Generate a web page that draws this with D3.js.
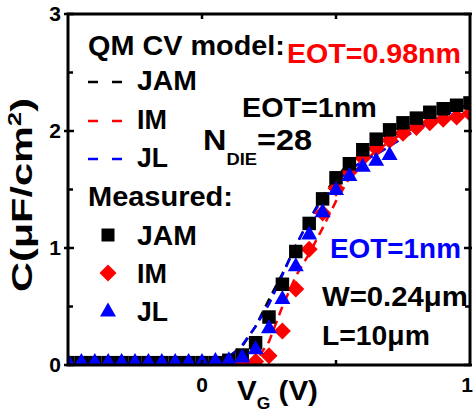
<!DOCTYPE html>
<html><head><meta charset="utf-8">
<script src="https://d3js.org/d3.v7.min.js"></script>
<style>
html,body{margin:0;padding:0;background:#fff;}
svg text{font-family:"Liberation Sans",Arial,sans-serif;font-weight:bold;}
</style></head>
<body><svg id="c" width="473" height="414"></svg>
<script>
const vg = d3.range(31).map(i => +(-0.5 + i*0.05).toFixed(2));
// Measured (x = vg)
const measJAM = [0.02,0.02,0.02,0.02,0.02,0.02,0.02,0.02,0.02,0.02,0.02,0.02,0.04,0.085,0.19,0.41,0.69,0.97,1.21,1.42,1.60,1.72,1.84,1.93,2.01,2.07,2.11,2.16,2.19,2.22,2.24];
const measIM  = [0.01,0.01,0.01,0.01,0.01,0.01,0.01,0.01,0.01,0.01,0.01,0.01,0.01,0.01,0.03,0.08,0.29,0.65,0.99,1.30,1.51,1.65,1.77,1.85,1.92,1.98,2.03,2.07,2.10,2.12,2.15];
const measJL  = [0.03,0.03,0.03,0.03,0.03,0.03,0.03,0.03,0.03,0.03,0.03,0.04,0.045,0.07,0.14,0.32,0.57,0.85,1.12,1.31,1.50,1.62,1.70,1.75,1.80];
// QM CV model curves (x = vg)
const modelJAM = [0.01,0.01,0.01,0.01,0.01,0.01,0.01,0.01,0.01,0.01,0.01,0.03,0.07,0.16,0.33,0.56,0.78,1.02,1.24,1.44,1.60,1.73,1.83,1.91,1.98,2.04,2.09,2.13,2.17,2.20,2.23];
const modelIM  = [0.0,0.0,0.0,0.0,0.0,0.0,0.0,0.0,0.0,0.0,0.0,0.0,0.0,0.01,0.03,0.20,0.50,0.76,0.95,1.17,1.40,1.60,1.73,1.83,1.91,1.98,2.03,2.07,2.10,2.13,2.16];
const modelJL  = [0.01,0.01,0.01,0.01,0.01,0.01,0.01,0.01,0.01,0.01,0.01,0.03,0.06,0.17,0.33,0.52,0.77,1.02,1.24,1.42,1.56,1.67,1.74,1.80,1.87,1.94,2.01,2.07,2.13,2.18,2.24];
const yTicks = [0,1,2,3];
const yMinor = [0.5,1.5,2.5];
const xTickLabels = [0,1];
const xTicks = [0,0.5];

const svg = d3.select("#c");
const L=68,R=470,T=14,B=365;
const x = d3.scaleLinear().domain([-0.5,1]).range([L,R]);
const y = d3.scaleLinear().domain([0,3]).range([B,T]);

// stretch a text horizontally so it spans [x0, x1]
function fit(t, x0, x1){
  const w = t.node().getBBox().width;
  const k = (x1-x0)/w;
  t.attr("transform",`translate(${x0},0) scale(${k},1) translate(${-x0},0)`);
  return t;
}

svg.append("clipPath").attr("id","clip").append("rect").attr("x",L).attr("y",T).attr("width",R-L).attr("height",B-T);
const g = svg.append("g").attr("clip-path","url(#clip)");

const line = d3.line().x((d,i)=>x(vg[i])).y(d=>y(d));
const models = [[modelJAM,"#000"],[modelIM,"#ff0000"],[modelJL,"#0000ff"]];
models.forEach(([d,c])=>{
  g.append("path").datum(d).attr("d",line).attr("fill","none").attr("stroke",c)
   .attr("stroke-width",2.5).attr("stroke-dasharray","9,6");
});

const sq = s => `M${-s/2},${-s/2}h${s}v${s}h${-s}Z`;
const dia = s => `M0,${-s}L${s},0L0,${s}L${-s},0Z`;
const tri = (w,h) => `M0,${-h*0.6}L${w/2},${h*0.4}L${-w/2},${h*0.4}Z`;

function marks(data, path, color){
  g.append("g").selectAll("path").data(data).join("path")
   .attr("transform",(d,i)=>`translate(${x(vg[i])},${y(d)})`)
   .attr("d",path).attr("fill",color);
}
marks(measIM, dia(8.5), "#ff0000");
marks(measJAM, sq(13.5), "#000");
marks(measJL, tri(16,14), "#0000ff");

// frame
svg.append("rect").attr("x",L).attr("y",T).attr("width",R-L).attr("height",B-T)
  .attr("fill","none").attr("stroke","#000").attr("stroke-width",3);

// ticks
const tk = svg.append("g").attr("stroke","#000").attr("stroke-width",2.5);
yTicks.forEach(v=>{
  tk.append("line").attr("x1",L-4).attr("x2",L+6).attr("y1",y(v)).attr("y2",y(v));
  tk.append("line").attr("x1",R-6).attr("x2",R+2).attr("y1",y(v)).attr("y2",y(v));
});
yMinor.forEach(v=>{
  tk.append("line").attr("x1",L).attr("x2",L+5).attr("y1",y(v)).attr("y2",y(v));
  tk.append("line").attr("x1",R-5).attr("x2",R).attr("y1",y(v)).attr("y2",y(v));
});
xTicks.forEach(v=>{
  tk.append("line").attr("x1",x(v)).attr("x2",x(v)).attr("y1",B).attr("y2",B-5);
  tk.append("line").attr("x1",x(v)).attr("x2",x(v)).attr("y1",T).attr("y2",T+5);
});

svg.selectAll(".yl").data(yTicks).join("text").attr("class","yl")
  .attr("x",L-7).attr("y",d=>y(d)+7).attr("text-anchor","end").attr("font-size",21).text(d=>d);
svg.selectAll(".xl").data(xTickLabels).join("text").attr("class","xl")
  .attr("x",d=>x(d)).attr("dx",d=>d===1?-3:0).attr("y",392).attr("text-anchor","middle").attr("font-size",21).text(d=>d);

// axis titles
const xt = svg.append("text").attr("x",237).attr("y",400).attr("font-size",27);
xt.append("tspan").text("V");
xt.append("tspan").attr("font-size",16).attr("dy",9).text("G");
xt.append("tspan").attr("dy",-9).text(" (V)");
fit(xt,237,318);

const yg = svg.append("g").attr("transform","translate(32,292) rotate(-90)");
const ytt = yg.append("text").attr("x",0).attr("y",0).attr("font-size",29)
  .html('C(μF/cm<tspan font-size="18" dy="-11">2</tspan><tspan dy="11">)</tspan>');
fit(ytt,0,194);

// legend
fit(svg.append("text").attr("x",88).attr("y",55).attr("font-size",28).text("QM CV model:"),88,285);
const legNames = ["JAM","IM","JL"];
const legColors = ["#000","#ff0000","#0000ff"];
const legY = [82,121,159];
const legEnd = [197,167,168];
legNames.forEach((n,i)=>{
  svg.append("line").attr("x1",88).attr("x2",122).attr("y1",legY[i]).attr("y2",legY[i])
    .attr("stroke",legColors[i]).attr("stroke-width",2.5).attr("stroke-dasharray","10,14");
  fit(svg.append("text").attr("x",137).attr("y",legY[i]+8).attr("font-size",28).text(n),137,legEnd[i]);
});
fit(svg.append("text").attr("x",88).attr("y",206).attr("font-size",28).text("Measured:"),88,233);
const mY = [235,273,311];
const mPaths = [sq(13),dia(8.5),tri(16,14)];
legNames.forEach((n,i)=>{
  svg.append("path").attr("transform",`translate(108,${mY[i]})`).attr("d",mPaths[i]).attr("fill",legColors[i]);
  fit(svg.append("text").attr("x",137).attr("y",mY[i]+10).attr("font-size",28).text(n),137,legEnd[i]);
});

// annotations
fit(svg.append("text").attr("x",287).attr("y",63).attr("font-size",28).attr("fill","#ff0000").text("EOT=0.98nm"),287,461);
fit(svg.append("text").attr("x",242).attr("y",117).attr("font-size",28).text("EOT=1nm"),242,377);
const nd = svg.append("text").attr("x",203).attr("y",150).attr("font-size",30);
nd.append("tspan").text("N");
nd.append("tspan").attr("font-size",17).attr("dy",15).text("DIE");
nd.append("tspan").attr("dy",-15).text("=28");
fit(nd,203,312);
fit(svg.append("text").attr("x",330).attr("y",258).attr("font-size",28).attr("fill","#0000ff").text("EOT=1nm"),330,461);
fit(svg.append("text").attr("x",322).attr("y",306).attr("font-size",28).text("W=0.24μm"),322,468);
fit(svg.append("text").attr("x",322).attr("y",345).attr("font-size",28).text("L=10μm"),322,430);
</script></body></html>
